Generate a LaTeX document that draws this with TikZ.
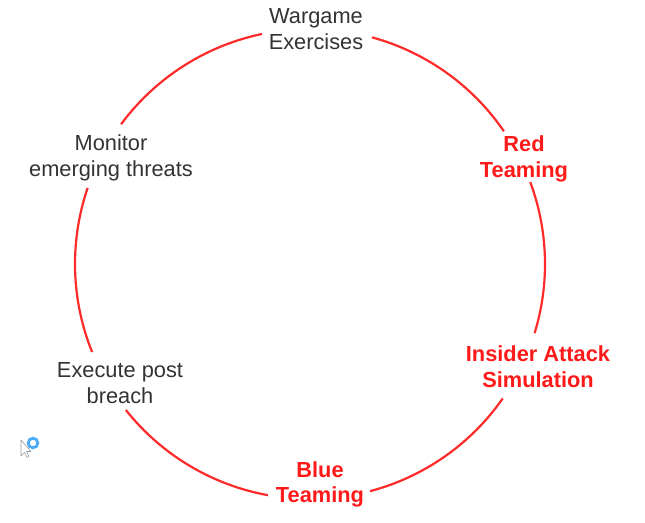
\documentclass[tikz,border=0pt]{standalone}
\usepackage{fontspec}
\setmainfont{Liberation Sans}
\definecolor{ringred}{HTML}{FF2A2A}
\definecolor{txtred}{HTML}{FF1A1A}
\definecolor{txtgray}{HTML}{333333}
\definecolor{cursorblue}{HTML}{2A9DF4}
\begin{document}
\begin{tikzpicture}[x=1pt,y=1pt,
  lbl/.style={align=center,inner sep=0pt,font=\fontsize{21.8}{25.5}\selectfont,text=txtgray},
  redlbl/.style={lbl,font=\fontsize{21.8}{25.5}\selectfont\bfseries,text=txtred},
  ring/.style={draw=ringred,line width=2.2pt}]
\useasboundingbox (0,0) rectangle (645,522);
\fill[white] (0,0) rectangle (645,522);
\coordinate (c) at (310,258);
\def\R{235}
% labels
\node[lbl]    (wargame) at (316,493)   {Wargame\\Exercises};
\node[redlbl] (red)     at (524,363)   {Red\\Teaming};
\node[redlbl] (insider) at (538,155.5) {Insider Attack\\Simulation};
\node[redlbl] (blue)    at (320,37.5)  {Blue\\Teaming};
\node[lbl]    (execute) at (120,139)   {Execute post\\breach};
\node[lbl]    (monitor) at (111,364)   {Monitor\\emerging threats};
% cycle arcs between labels
\draw[ring] (c) ++(101.8:\R) arc[start angle=101.8, end angle=143.5, radius=\R];
\draw[ring] (c) ++(161.1:\R) arc[start angle=161.1, end angle=202, radius=\R];
\draw[ring] (c) ++(218.4:\R) arc[start angle=218.4, end angle=259.7, radius=\R];
\draw[ring] (c) ++(284.8:\R) arc[start angle=284.8, end angle=325.1, radius=\R];
\draw[ring] (c) ++(342.9:\R) arc[start angle=342.9, end angle=380.4, radius=\R];
\draw[ring] (c) ++(34.4:\R) arc[start angle=34.4, end angle=74.7, radius=\R];
% mouse cursor artifact
\draw[cursorblue!85,line width=2.8pt] (33,79) circle (4.8);
\draw[gray!80,fill=white,line width=0.6pt,line join=round]
  (21,82) -- (21,66) -- (24.5,69.5) -- (27,64.5) -- (29,65.5) -- (26.5,70.5) -- (31,70.5) -- cycle;
\end{tikzpicture}
\end{document}
